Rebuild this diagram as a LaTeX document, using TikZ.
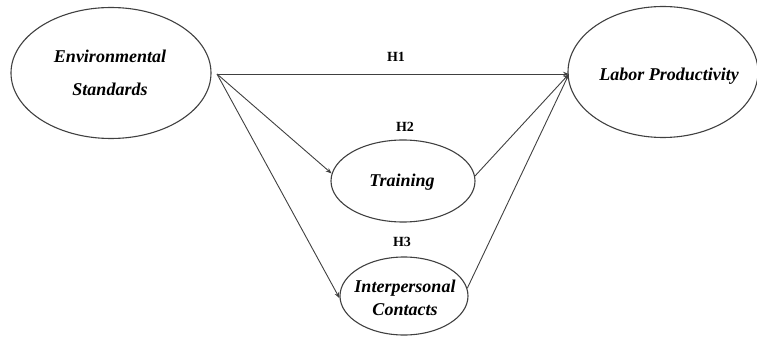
\documentclass[tikz,border=0pt]{standalone}
\usepackage{fontspec}
\setmainfont{Liberation Serif}
\usetikzlibrary{shapes.geometric,arrows.meta}
\begin{document}
\begin{tikzpicture}[x=1pt,y=-1pt,
  construct/.style={draw=black!75,line width=1.1pt,ellipse,inner sep=0pt},
  ctext/.style={font=\fontsize{18}{22}\selectfont\bfseries\itshape,inner sep=0pt,align=center},
  hlabel/.style={font=\fontsize{14}{16}\selectfont\bfseries,inner sep=0pt},
  path/.style={draw=black!75,line width=0.9pt,-{Stealth[length=6pt,width=4.5pt]}},
  plain/.style={draw=black!75,line width=0.9pt}
]
\useasboundingbox (0,0) rectangle (757,339);
% ellipses
\node[construct,minimum width=200pt,minimum height=131pt] (env) at (111,73) {};
\node[construct,minimum width=190pt,minimum height=131pt] (lab) at (663,72) {};
\node[construct,minimum width=144pt,minimum height=82pt] (train) at (403,181) {};
\node[construct,minimum width=128pt,minimum height=78pt] (inter) at (404,296) {};
% texts
\node[ctext] (envA) at (110,56) {Environmental};
\node[ctext] (envB) at (110,89) {Standards};
\node[ctext] (labT) at (669,76) {Labor Productivity};
\node[ctext] (trT) at (402,182) {Training};
\node[ctext] (inA) at (405,288) {Interpersonal};
\node[ctext] (inB) at (405,310) {Contacts};
% hypothesis labels
\node[hlabel] (h1) at (396,57) {H1};
\node[hlabel] (h2) at (405,127) {H2};
\node[hlabel] (h3) at (402,242) {H3};
% connectors
\coordinate (src) at (217,74);
\coordinate (dst) at (569,74);
\draw[path] (src) -- (dst);
\draw[path] (src) -- (train.174);
\draw[path] (src) -- (inter.182);
\draw[path] (train.4) -- (dst);
\draw[path] (inter.7) -- (dst);
\end{tikzpicture}
\end{document}
